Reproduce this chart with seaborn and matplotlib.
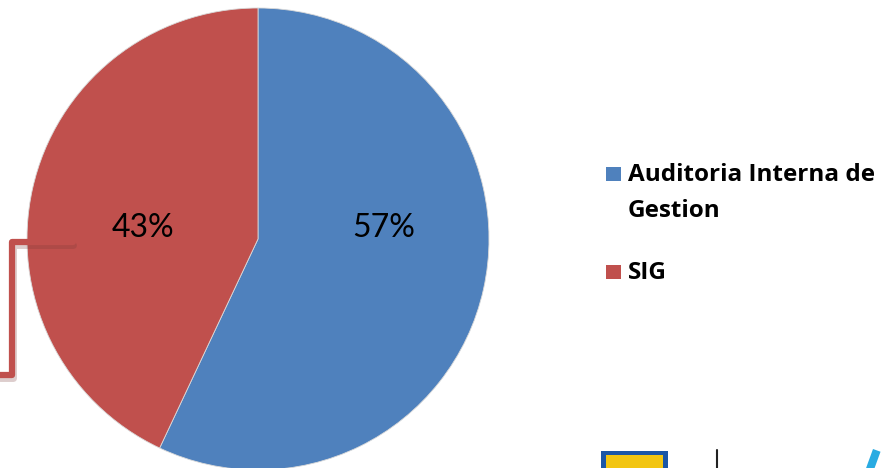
import numpy as np
import seaborn as sns
import matplotlib.pyplot as plt
from matplotlib.patches import Rectangle
from matplotlib.lines import Line2D

categories = ["Auditoria Interna de\nGestion", "SIG"]
values = [57, 43]
colors = ["#4F81BD", "#C0504D"]

sns.set_style("white")
plt.rcParams['font.family'] = ['Lato', 'DejaVu Sans']

W, H = 893, 468
fig = plt.figure(figsize=(W / 100, H / 100), dpi=100)

# pie axes: center (258, 239) px, radius 231 px
cx, cy, r = 258, 239, 231
ax = fig.add_axes([(cx - r) / W, (H - cy - r) / H, 2 * r / W, 2 * r / H])
wedges, texts, autotexts = ax.pie(values, colors=colors, startangle=90, counterclock=False,
                                  autopct='%1.0f%%', radius=1,
                                  wedgeprops=dict(linewidth=0.6, edgecolor="#d9d9d9"),
                                  textprops=dict(fontsize=23, color="black"))
ax.set_xlim(-1, 1)
ax.set_ylim(-1, 1)
ax.set_aspect('equal')
ax.axis('off')
# label positions as in the reference
for t, xpos in zip(autotexts, [0.543, -0.498]):
    t.set_position((xpos, 0.009))
    t.set_va('baseline')

# overlay in pixel coords (y down)
ov = fig.add_axes([0, 0, 1, 1], facecolor='none')
ov.set_xlim(0, W)
ov.set_ylim(H, 0)
ov.axis('off')

# legend (square aligned with first line of each label)
leg_y = [181, 279]
for lab, c, yb in zip(categories, colors, leg_y):
    ov.add_patch(Rectangle((606, yb - 14), 15, 14, facecolor=c, edgecolor='none'))
    for k, line in enumerate(lab.split("\n")):
        ov.text(628, yb + 36 * k, line, family='Open Sans', weight='bold', fontsize=17.5,
                color='black', va='baseline', ha='left')

# red connector line on left
ov.add_line(Line2D([73, 13, 13, 0], [245, 245, 378, 378], color="#7a3a38", lw=5, alpha=0.25,
                   solid_joinstyle='round'))
ov.add_line(Line2D([73, 12, 12, 0], [242, 242, 375, 375], color="#C0504D", lw=4.5,
                   solid_joinstyle='round'))

# partial logos at bottom right
ov.add_patch(Rectangle((601, 451), 67, 20, facecolor="#1a56a6", edgecolor='none'))
ov.add_patch(Rectangle((606, 455), 57, 16, facecolor="#f2c511", edgecolor='none'))
ov.add_line(Line2D([717, 717], [450, 470], color="#222222", lw=1.5))
ov.add_patch(Rectangle((873, 449), 8, 22, facecolor="#29abe2", edgecolor='none', angle=20))

fig.savefig("out.png", dpi=100)
